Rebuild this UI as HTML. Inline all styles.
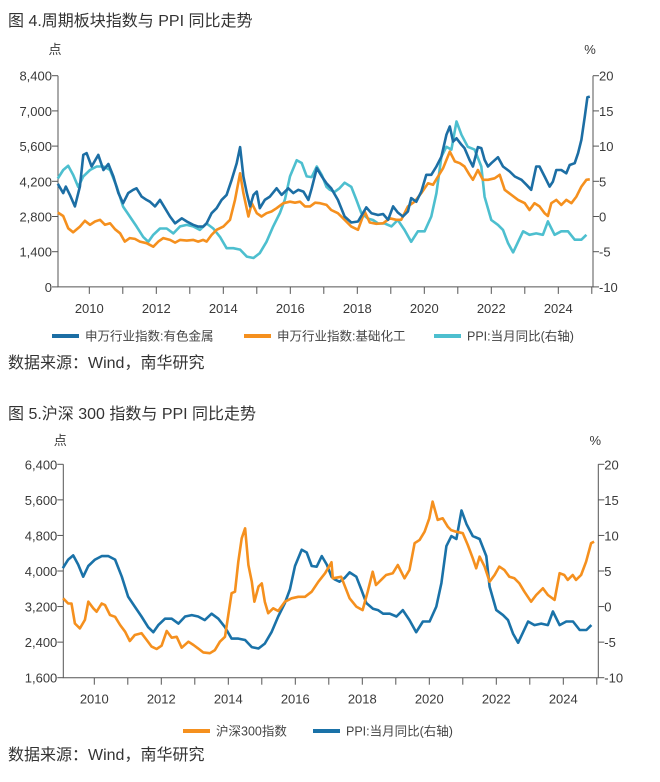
<!DOCTYPE html>
<html><head><meta charset="utf-8"><style>
html,body{margin:0;padding:0;background:#fff;}
svg{display:block;font-family:"Liberation Sans","Noto Sans CJK SC",sans-serif;}
.t{font-size:13px;fill:#3a3a3a;}
.ttl{font-size:16px;fill:#333;}
.lg{font-size:12.5px;fill:#444;}
</style></head><body>
<svg id="page" width="660" height="782" viewBox="0 0 660 782" xmlns="http://www.w3.org/2000/svg"></svg>
<script>
// ---------- Chart 1 data ----------
const c1Years = [2010,2012,2014,2016,2018,2020,2022,2024];
const c1LeftTicks = [0,1400,2800,4200,5600,7000,8400];
const c1LeftLabels = ["0","1,400","2,800","4,200","5,600","7,000","8,400"];
const c1RightTicks = [-10,-5,0,5,10,15,20];
const metalDates = [2009.06,2009.22,2009.30,2009.42,2009.57,2009.72,2009.82,2009.92,2010.07,2010.27,2010.42,2010.57,2010.72,2010.87,2011.01,2011.16,2011.31,2011.41,2011.56,2011.71,2011.81,2011.96,2012.11,2012.26,2012.41,2012.56,2012.76,2012.91,2013.10,2013.25,2013.40,2013.50,2013.65,2013.80,2013.95,2014.10,2014.25,2014.40,2014.50,2014.60,2014.70,2014.80,2014.90,2015.00,2015.09,2015.24,2015.39,2015.59,2015.74,2015.94,2016.09,2016.24,2016.39,2016.54,2016.64,2016.79,2016.94,2017.08,2017.22,2017.42,2017.62,2017.82,2018.02,2018.27,2018.42,2018.62,2018.77,2018.92,2019.07,2019.21,2019.36,2019.51,2019.61,2019.76,2019.91,2020.06,2020.21,2020.36,2020.51,2020.66,2020.76,2020.86,2020.96,2021.11,2021.20,2021.35,2021.45,2021.60,2021.70,2021.80,2021.90,2022.00,2022.20,2022.35,2022.55,2022.70,2022.90,2023.05,2023.19,2023.34,2023.44,2023.59,2023.74,2023.84,2023.94,2024.09,2024.24,2024.34,2024.49,2024.59,2024.69,2024.79,2024.87,2024.94];
const metalValues = [4100,3730,3990,3660,3200,3990,5250,5320,4790,5250,4650,4890,4390,3730,3330,3730,3860,3920,3590,3460,3390,3200,3460,3130,2800,2530,2730,2600,2470,2400,2400,2530,2930,3130,3460,3660,4260,4920,5560,4390,3730,3200,3660,3790,3130,3460,3590,3920,3660,3920,3730,3860,3790,3460,3920,4720,4390,4120,3920,3460,2800,2560,2600,3160,2930,2860,2900,2670,3200,2960,2800,3000,3530,3390,3790,4460,4460,4790,5180,6050,6380,5780,5910,5650,5520,5050,4790,5560,5520,5050,4790,4920,5160,4790,4590,4390,4260,4060,3860,4790,4790,4390,3990,4190,4650,4650,4520,4850,4920,5320,5850,6780,7540,7570];
const chemDates = [2009.06,2009.22,2009.37,2009.52,2009.72,2009.87,2010.02,2010.17,2010.32,2010.47,2010.62,2010.77,2010.92,2011.06,2011.21,2011.36,2011.51,2011.71,2011.91,2012.06,2012.21,2012.41,2012.56,2012.71,2012.91,2013.10,2013.25,2013.40,2013.50,2013.65,2013.80,2014.00,2014.20,2014.35,2014.50,2014.60,2014.75,2014.85,2015.00,2015.14,2015.29,2015.44,2015.59,2015.79,2015.99,2016.14,2016.29,2016.44,2016.59,2016.74,2016.89,2017.08,2017.22,2017.42,2017.62,2017.82,2018.02,2018.22,2018.37,2018.57,2018.77,2018.97,2019.16,2019.31,2019.51,2019.71,2019.91,2020.11,2020.26,2020.41,2020.56,2020.76,2020.91,2021.06,2021.20,2021.35,2021.45,2021.60,2021.75,2021.90,2022.10,2022.25,2022.40,2022.60,2022.80,2023.00,2023.14,2023.29,2023.44,2023.59,2023.69,2023.79,2023.94,2024.09,2024.24,2024.39,2024.54,2024.69,2024.84,2024.94];
const chemValues = [2960,2820,2330,2170,2400,2630,2470,2600,2670,2470,2530,2290,2130,1800,1940,1910,1800,1740,1600,1800,1940,1870,1760,1870,1840,1870,1800,1870,1800,2070,2270,2400,2670,3460,4520,3730,2800,3330,2930,2800,2930,3000,3130,3330,3390,3350,3390,3200,3200,3350,3330,3260,3060,2930,2670,2400,2270,3000,2560,2510,2530,2730,2670,2670,3200,3390,3730,4120,4060,4390,4720,5380,4990,4920,4790,4460,4260,4650,4260,4260,4320,4460,3860,3660,3460,3330,3060,3330,3200,2930,2820,3330,3460,3260,3460,3330,3590,3990,4260,4280];
const ppiDates = [2009.06,2009.22,2009.37,2009.52,2009.67,2009.82,2010.02,2010.22,2010.42,2010.62,2010.82,2011.01,2011.21,2011.41,2011.61,2011.76,2011.91,2012.11,2012.31,2012.51,2012.71,2012.91,2013.10,2013.30,2013.50,2013.70,2013.90,2014.10,2014.30,2014.50,2014.70,2014.90,2015.09,2015.29,2015.49,2015.69,2015.84,2015.99,2016.19,2016.34,2016.49,2016.64,2016.79,2016.94,2017.08,2017.18,2017.32,2017.47,2017.62,2017.82,2017.97,2018.12,2018.32,2018.47,2018.62,2018.82,2019.02,2019.21,2019.41,2019.61,2019.81,2020.01,2020.21,2020.36,2020.51,2020.66,2020.81,2020.96,2021.11,2021.30,2021.50,2021.70,2021.80,2022.00,2022.20,2022.35,2022.50,2022.65,2022.80,2022.95,2023.14,2023.34,2023.54,2023.69,2023.89,2024.09,2024.29,2024.49,2024.69,2024.84];
const ppiValues = [5.4,6.6,7.2,5.9,4.2,5.7,6.6,7.1,7.1,6.6,4.2,1.4,0.0,-1.4,-2.9,-3.6,-2.6,-1.7,-1.7,-2.4,-1.4,-1.2,-1.4,-1.9,-1.0,-1.7,-2.9,-4.5,-4.5,-4.7,-5.7,-5.9,-5.2,-3.6,-1.4,0.5,2.4,5.7,8.0,7.6,5.7,5.6,7.1,5.9,4.2,3.8,3.5,4.0,4.8,4.2,2.4,0.5,-0.3,-0.5,-1.0,-1.0,-1.4,-0.5,-1.9,-3.6,-2.1,-2.1,0.0,3.3,8.5,9.9,9.5,13.5,11.6,9.9,9.5,7.1,2.8,-0.5,-1.2,-1.9,-3.8,-5.1,-3.6,-2.1,-2.6,-2.4,-2.6,-0.7,-2.6,-2.1,-2.1,-3.3,-3.3,-2.6,-2.0];

// ---------- Chart 2 data ----------
const c2LeftTicks = [1600,2400,3200,4000,4800,5600,6400];
const c2LeftLabels = ["1,600","2,400","3,200","4,000","4,800","5,600","6,400"];
const hsDates = [2009.07,2009.22,2009.32,2009.42,2009.57,2009.72,2009.82,2009.97,2010.07,2010.22,2010.32,2010.47,2010.62,2010.77,2010.92,2011.06,2011.21,2011.41,2011.56,2011.71,2011.86,2012.01,2012.16,2012.31,2012.46,2012.61,2012.81,2012.96,2013.10,2013.25,2013.45,2013.60,2013.75,2013.90,2014.00,2014.10,2014.20,2014.30,2014.40,2014.50,2014.60,2014.70,2014.78,2014.90,2015.00,2015.09,2015.19,2015.34,2015.49,2015.69,2015.89,2016.09,2016.29,2016.49,2016.69,2016.89,2017.08,2017.12,2017.37,2017.62,2017.82,2018.01,2018.16,2018.31,2018.41,2018.56,2018.71,2018.91,2019.06,2019.26,2019.41,2019.56,2019.71,2019.86,2020.00,2020.10,2020.25,2020.40,2020.55,2020.65,2020.80,2021.00,2021.15,2021.30,2021.40,2021.50,2021.65,2021.80,2021.95,2022.09,2022.24,2022.39,2022.54,2022.69,2022.84,2023.04,2023.19,2023.39,2023.54,2023.74,2023.89,2024.03,2024.13,2024.28,2024.38,2024.53,2024.68,2024.83,2024.92];
const hsValues = [3385,3270,3270,2820,2710,2900,3310,3160,3085,3270,3235,3010,2970,2785,2635,2425,2560,2600,2450,2300,2245,2320,2650,2500,2520,2275,2410,2335,2260,2170,2150,2220,2410,2520,3010,3500,3535,4210,4735,4960,4135,3760,3310,3650,3720,3310,3050,3160,3100,3310,3385,3420,3420,3535,3760,3950,4195,3835,3870,3385,3200,3120,3535,3985,3685,3800,3910,3950,4135,3835,4025,4625,4700,4885,5185,5560,5150,5185,4998,4920,4885,4850,4585,4285,4060,4325,4100,3760,3910,4100,4025,3870,3835,3720,3535,3310,3460,3610,3460,3350,3950,3910,3800,3910,3800,3910,4210,4625,4660];

const NS = "http://www.w3.org/2000/svg";
const svg = document.getElementById('page');
function mk(tag, attrs, parent){ const e=document.createElementNS(NS,tag); for(const k in attrs) e.setAttribute(k,attrs[k]); (parent||svg).appendChild(e); return e; }
function txt(x,y,s,cls,anchor,parent){ const e=mk('text',{x:x,y:y,'class':cls,'text-anchor':anchor||'start'},parent); e.textContent=s; return e; }

function drawChart(cfg){
  const g = mk('g',{});
  
  
  const xs = yr => cfg.x2010 + (yr-2010)*cfg.pxPerYear;
  const yl = v => cfg.yBot - (v-cfg.lMin)/(cfg.lMax-cfg.lMin)*(cfg.yBot-cfg.yTop);
  const yr = v => cfg.yBot - (v-cfg.rMin)/(cfg.rMax-cfg.rMin)*(cfg.yBot-cfg.yTop);
  const t = txt(8, cfg.titleY, cfg.title, 'ttl','start',g);
  
  
  const u1 = txt(cfg.xL-3, cfg.unitY, '点', 't','middle',g);
  
  
  const u2 = txt(cfg.xR-3, cfg.unitY, '%', 't','middle',g);
  
  
  // axes
  const ax = mk('path',{d:`M${cfg.xL},${cfg.yTop}V${cfg.yBot}H${cfg.xR}V${cfg.yTop}`,fill:'none',stroke:'#555','stroke-width':1},g);
  
  
  cfg.lTicks.forEach((v,i)=>{
    const y=yl(v);
    mk('line',{x1:cfg.xL-6,x2:cfg.xL,y1:y,y2:y,stroke:'#555'},g);
    const l=txt(cfg.xL-6, y+5, cfg.lLabels[i],'t','end',g);
    
    
  });
  c1RightTicks.forEach(v=>{
    const y=yr(v);
    mk('line',{x1:cfg.xR,x2:cfg.xR+6,y1:y,y2:y,stroke:'#555'},g);
    const l=txt(cfg.xR+6, y+5, String(v),'t','start',g);
    
    
  });
  for(let yy=2010; yy<=2025; yy++){
    const x=xs(yy); if(x>cfg.xR-1) continue;
    mk('line',{x1:x,x2:x,y1:cfg.yBot,y2:cfg.yBot+7,stroke:'#555'},g);
  }
  c1Years.forEach(yy=>{
    const l=txt(xs(yy), cfg.yBot+26, String(yy),'t','middle',g);
    
    
  });
  cfg.series.forEach(s=>{
    const sc = s.right ? yr : yl;
    const d = s.dates.map((dt,i)=>(i?'L':'M')+xs(dt).toFixed(1)+','+sc(s.values[i]).toFixed(1)).join('');
    const p = mk('path',{d:d,fill:'none',stroke:s.color,'stroke-width':2.6,'stroke-linejoin':'round'},g);
    
    
  });
  cfg.legend.forEach(L=>{
    const lg = mk('g',{},g);
    
    
    mk('line',{x1:L.x,x2:L.x+27,y1:cfg.legY,y2:cfg.legY,stroke:L.color,'stroke-width':4},lg);
    txt(L.x+33, cfg.legY+4.5, L.text,'lg','start',lg);
  });
  const src = txt(8, cfg.srcY, '数据来源：Wind，南华研究','ttl','start',g);
  
  
}

drawChart({name:'chart-cyclical-vs-ppi', title:'图 4.周期板块指数与 PPI 同比走势', titleY:26, unitY:54,
  xL:58, xR:593, x2010:89.3, pxPerYear:33.5, yTop:75.7, yBot:286.9,
  lMin:0, lMax:8400, rMin:-10, rMax:20, lTicks:c1LeftTicks, lLabels:c1LeftLabels,
  series:[
    {name:'ppi-line', dates:ppiDates, values:ppiValues, color:'#4dbfcf', right:true},
    {name:'chemical-index-line', dates:chemDates, values:chemValues, color:'#f5901e'},
    {name:'nonferrous-index-line', dates:metalDates, values:metalValues, color:'#1c6ea4'}
  ],
  legend:[{x:52,color:'#1c6ea4',text:'申万行业指数:有色金属'},{x:244,color:'#f5901e',text:'申万行业指数:基础化工'},{x:434,color:'#4dbfcf',text:'PPI:当月同比(右轴)'}],
  legY:336, srcY:368});

drawChart({name:'chart-csi300-vs-ppi', title:'图 5.沪深 300 指数与 PPI 同比走势', titleY:419, unitY:445,
  xL:63.3, xR:598.3, x2010:94.3, pxPerYear:33.5, yTop:464.3, yBot:677.7,
  lMin:1600, lMax:6400, rMin:-10, rMax:20, lTicks:c2LeftTicks, lLabels:c2LeftLabels,
  series:[
    {name:'ppi-line', dates:ppiDates, values:ppiValues, color:'#1a72a8', right:true},
    {name:'csi300-line', dates:hsDates, values:hsValues, color:'#f5901e'}
  ],
  legend:[{x:183,color:'#f5901e',text:'沪深300指数'},{x:313,color:'#1a72a8',text:'PPI:当月同比(右轴)'}],
  legY:731, srcY:760});
</script>
</body></html>
